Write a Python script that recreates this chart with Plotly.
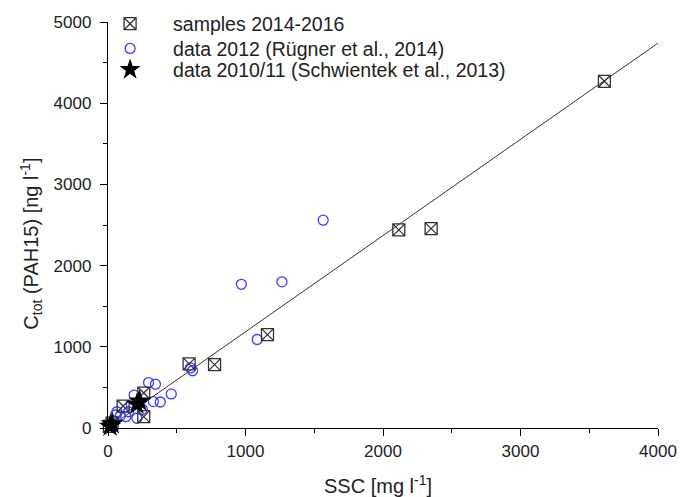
import plotly.graph_objects as go

# samples 2014-2016
samples_ssc = [3610, 2350, 2115, 1160, 775, 590, 260, 260, 110, 30, 10]
samples_c = [4270, 2455, 2440, 1150, 780, 790, 430, 140, 270, 60, 20]

# data 2012 (Rügner et al., 2014)
r2012_ssc = [1565, 970, 1265, 1085, 600, 615, 295, 345, 460, 330, 380, 190, 170, 210, 250, 65, 55, 90, 130, 150, 20]
r2012_c = [2560, 1770, 1800, 1090, 740, 705, 560, 540, 420, 325, 320, 405, 285, 120, 230, 200, 160, 150, 140, 200, 30]

# data 2010/11 (Schwientek et al., 2013)
s2010_ssc = [230, 210, 30, 15]
s2010_c = [330, 290, 50, 20]

# regression line
fit_x = [0, 4000]
fit_slope = 1.185
fit_y = [v * fit_slope for v in fit_x]

FONT = "Liberation Sans, Arial, sans-serif"
TXT = "#222222"

fig = go.Figure()
fig.add_trace(go.Scatter(x=fit_x, y=fit_y, mode="lines", line=dict(color="#333333", width=1),
                         showlegend=False, hoverinfo="skip"))
fig.add_trace(go.Scatter(x=r2012_ssc, y=r2012_c, mode="markers", name="data 2012 (Rügner et al., 2014)",
                         legend="legend2",
                         marker=dict(symbol="circle-open", size=10, color="#3d3dff", line=dict(width=1.3)),
                         cliponaxis=False))
fig.add_trace(go.Scatter(x=samples_ssc, y=samples_c, mode="markers", name="samples 2014-2016",
                         legend="legend",
                         marker=dict(symbol="square-x-open", size=12, color="#333333", line=dict(width=1.3)),
                         cliponaxis=False))
fig.add_trace(go.Scatter(x=s2010_ssc, y=s2010_c, mode="markers", name="data 2010/11 (Schwientek et al., 2013)",
                         legend="legend3",
                         marker=dict(symbol="star", size=17, color="black", line=dict(width=0)),
                         cliponaxis=False))

leg_common = dict(x=-0.038, xanchor="left", yanchor="middle", bgcolor="rgba(0,0,0,0)",
                  font=dict(size=19.5, family=FONT, color=TXT), itemwidth=76)

fig.update_layout(
    width=692, height=497,
    margin=dict(l=107.5, r=34, t=22, b=69, autoexpand=False),
    paper_bgcolor="white", plot_bgcolor="white",
    font=dict(family=FONT, size=17, color=TXT),
    legend=dict(y=0.995, **leg_common),
    legend2=dict(y=0.934, **leg_common),
    legend3=dict(y=0.882, **leg_common),
    xaxis=dict(range=[0, 4000], tickvals=[0, 1000, 2000, 3000, 4000], showgrid=False, zeroline=False,
               showline=True, linecolor="black", linewidth=1.3, ticks="outside", ticklen=7,
               tickcolor="black", tickwidth=1.3, automargin=False,
               minor=dict(tickvals=[500, 1500, 2500, 3500], ticks="outside", ticklen=4, tickcolor="black", tickwidth=1.3),
               tickfont=dict(size=17)),
    yaxis=dict(range=[0, 5000], tickvals=[0, 1000, 2000, 3000, 4000, 5000], showgrid=False, zeroline=False,
               showline=True, linecolor="black", linewidth=1.3, ticks="outside", ticklen=7,
               tickcolor="black", tickwidth=1.3, automargin=False, ticklabelstandoff=5,
               minor=dict(tickvals=[500, 1500, 2500, 3500, 4500], ticks="outside", ticklen=4, tickcolor="black", tickwidth=1.3),
               tickfont=dict(size=17)),
    annotations=[
        dict(text="SSC [mg l<sup>-1</sup>]", xref="paper", yref="paper", x=0.491, y=-0.140,
             xanchor="center", yanchor="middle", showarrow=False, font=dict(size=20, family=FONT, color=TXT)),
        dict(text="C<sub>tot</sub> (PAH15) [ng l<sup>-1</sup>]", xref="paper", yref="paper", x=-0.1407, y=0.453,
             xanchor="center", yanchor="middle", textangle=-90, showarrow=False,
             font=dict(size=20, family=FONT, color=TXT)),
    ],
)

fig.write_html("out.html", post_script="document.body.style.margin='0';",
               config={"displayModeBar": False})
